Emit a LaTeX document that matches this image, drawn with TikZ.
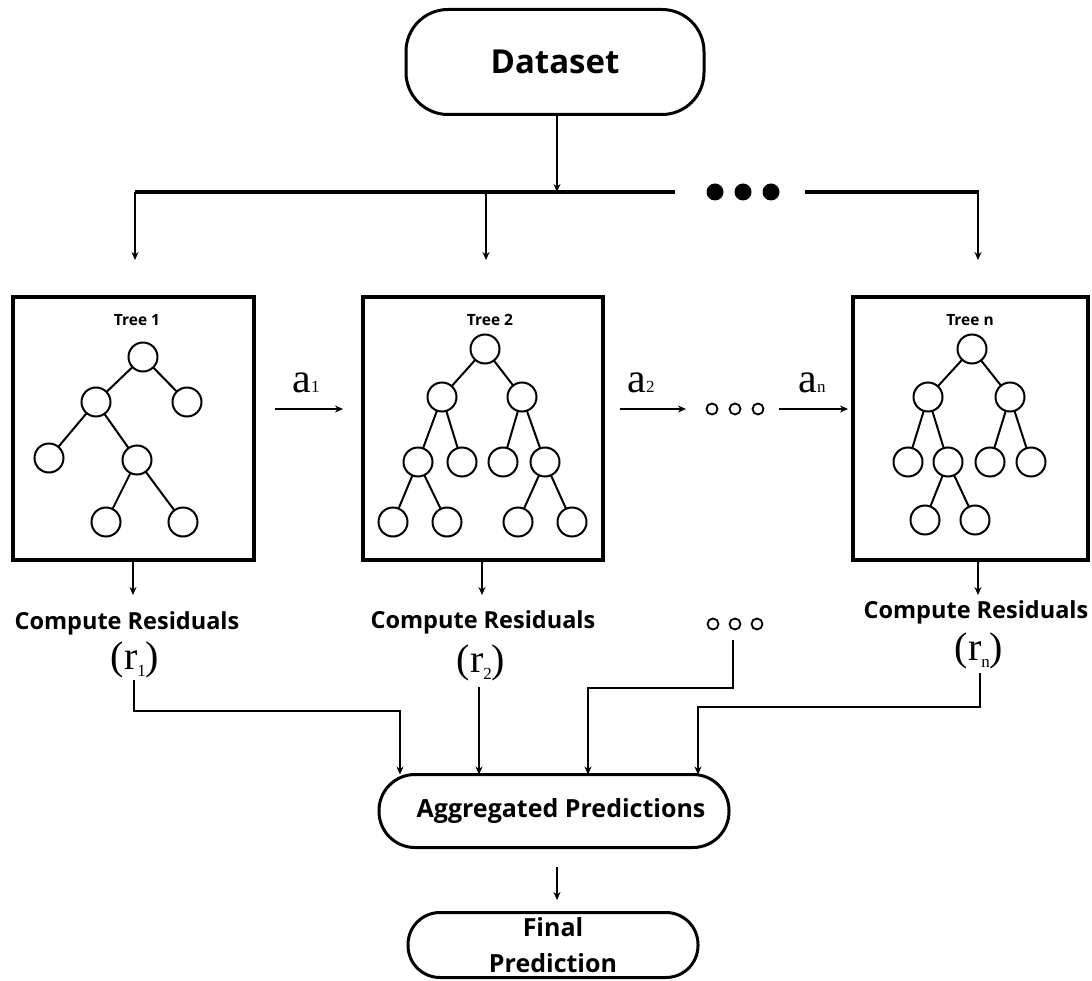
\documentclass[tikz,border=0pt]{standalone}
\usepackage{fontspec}
\setmainfont{Open Sans}
\newfontfamily\tnr{Liberation Serif}
\usetikzlibrary{arrows.meta}
\newcommand{\alab}[1]{{\tnr\fontsize{42}{42}\selectfont a\raisebox{0pt}{\fontsize{17}{17}\selectfont #1}}}
\newcommand{\rlab}[1]{{\tnr\fontsize{40}{40}\selectfont (r\raisebox{-7pt}{\fontsize{17}{17}\selectfont #1})}}
\begin{document}
\begin{tikzpicture}[x=1pt,y=-1pt,
  every node/.style={inner sep=0pt, outer sep=0pt},
  term/.style={draw, line width=3pt, rounded corners=#1, align=center,
               font=\bfseries\fontsize{25}{30}\selectfont},
  treebox/.style={draw, line width=4pt},
  leaf/.style={draw, circle, line width=2pt, minimum size=29pt},
  edge/.style={line width=2pt},
  title/.style={font=\bfseries\fontsize{15.5}{18}\selectfont},
  resid/.style={font=\bfseries\fontsize{23.5}{28}\selectfont},
  arr/.style={line width=1.5pt, -{Stealth[length=8pt,width=7pt]}},
  conn/.style={line width=2pt, -{Stealth[length=8pt,width=7pt]}},
  bar/.style={line width=4pt},
  hollow/.style={draw, circle, line width=1.8pt, minimum size=11pt},
  solid/.style={fill, circle, minimum size=17pt}
]
\useasboundingbox (0,0) rectangle (1092,981);

% start and end terminals
\node[term=42pt, minimum width=298pt, minimum height=105pt,
      font=\bfseries\fontsize{33}{40}\selectfont] (data) at (555,62) {Dataset};
\node[term=36pt, minimum width=350pt, minimum height=73pt] (agg) at (554,811)
      {\hspace*{14pt}Aggregated Predictions};
\node[term=32pt, minimum width=290pt, minimum height=65pt] (final) at (553,945)
      {Final\\[6pt]Prediction};

% distribution bar
\coordinate (b1) at (135,192);
\coordinate (b2) at (486,192);
\coordinate (bm) at (557,192);
\coordinate (bl) at (675,192);
\coordinate (br) at (805,192);
\coordinate (b3) at (978,192);
\draw[bar] (b1) -- (bl);
\draw[bar] (br) -- (b3);
\node[solid] (d1) at (715,192) {};
\node[solid] (d2) at (743,192) {};
\node[solid] (d3) at (771,192) {};
\draw[arr] (data.south -| bm) -- (bm);
\coordinate (e1) at (135,260);
\coordinate (e2) at (486,260);
\coordinate (e3) at (978,260);
\draw[arr] (b1) -- (e1);
\draw[arr] (b2) -- (e2);
\draw[line width=1.5pt] (b3) -- ++(0,-2);
\draw[arr] (b3) -- (e3);

% tree boxes
\node[treebox, minimum width=241pt, minimum height=263pt] (t1) at (133.5,428.5) {};
\node[treebox, minimum width=240pt, minimum height=263pt] (t2) at (483,428.5) {};
\node[treebox, minimum width=235pt, minimum height=263pt] (tn) at (970.5,428.5) {};
\node[title] (h1) at (137,320) {Tree 1};
\node[title] (h2) at (490,320) {Tree 2};
\node[title] (hn) at (970,320) {Tree n};

% tree 1
\node[leaf] (p0) at (143,357) {};
\node[leaf] (p1) at (96,402) {};
\node[leaf] (p2) at (187,402) {};
\node[leaf] (p3) at (49,458) {};
\node[leaf] (p4) at (137,460) {};
\node[leaf] (p5) at (106,522) {};
\node[leaf] (p6) at (183,522) {};
\draw[edge] (p0) -- (p1) (p0) -- (p2) (p1) -- (p3) (p1) -- (p4)
            (p4) -- (p5) (p4) -- (p6);

% tree 2
\node[leaf] (q0) at (485,349) {};
\node[leaf] (q1) at (442,397) {};
\node[leaf] (q2) at (522,397) {};
\node[leaf] (q3) at (418,462) {};
\node[leaf] (q4) at (462,462) {};
\node[leaf] (q5) at (503,462) {};
\node[leaf] (q6) at (545,462) {};
\node[leaf] (q7) at (393,522) {};
\node[leaf] (q8) at (447,522) {};
\node[leaf] (q9) at (518,522) {};
\node[leaf] (q10) at (572,522) {};
\draw[edge] (q0) -- (q1) (q0) -- (q2) (q1) -- (q3) (q1) -- (q4)
            (q2) -- (q5) (q2) -- (q6) (q3) -- (q7) (q3) -- (q8)
            (q6) -- (q9) (q6) -- (q10);

% tree n
\node[leaf] (s0) at (972,349) {};
\node[leaf] (s1) at (928,397) {};
\node[leaf] (s2) at (1010,397) {};
\node[leaf] (s3) at (908,462) {};
\node[leaf] (s4) at (948,462) {};
\node[leaf] (s5) at (990,462) {};
\node[leaf] (s6) at (1031,462) {};
\node[leaf] (s7) at (925,520) {};
\node[leaf] (s8) at (975,520) {};
\draw[edge] (s0) -- (s1) (s0) -- (s2) (s1) -- (s3) (s1) -- (s4)
            (s2) -- (s5) (s2) -- (s6) (s4) -- (s7) (s4) -- (s8);

% boosting sequence
\node (a1) at (306,383) {\alab{1}};
\node (a2) at (641,383) {\alab{2}};
\node (an) at (812,383) {\alab{n}};
\node[hollow] (m1) at (712,409) {};
\node[hollow] (m2) at (735,409) {};
\node[hollow] (m3) at (758,409) {};
\coordinate (k1) at (275,409);
\coordinate (k2) at (343,409);
\coordinate (k3) at (620,409);
\coordinate (k4) at (686,409);
\coordinate (k5) at (779,409);
\coordinate (k6) at (848,409);
\draw[conn] (k1) -- (k2);
\draw[conn] (k3) -- (k4);
\draw[conn] (k5) -- (k6);

% residual labels
\node[resid] (c1) at (127,623) {Compute Residuals};
\node[resid] (c2) at (483,622) {Compute Residuals};
\node[resid] (cn) at (976,612) {Compute Residuals};
\node (r1) at (135,660) {\rlab{1}};
\node (r2) at (481,663) {\rlab{2}};
\node (rn) at (979,651) {\rlab{n}};
\node[hollow] (o1) at (713,624) {};
\node[hollow] (o2) at (735,624) {};
\node[hollow] (o3) at (757,624) {};

\coordinate (f1) at (133,595);
\coordinate (f2) at (482,595);
\coordinate (f3) at (978,595);
\draw[arr] (t1.south -| f1) -- (f1);
\draw[arr] (t2.south -| f2) -- (f2);
\draw[arr] (tn.south -| f3) -- (f3);

% into the aggregation
\coordinate (g1) at (134,680);
\coordinate (g2) at (479,687);
\coordinate (g0) at (733,640);
\coordinate (g4) at (980,673);
\coordinate (j1) at (400,711);
\coordinate (j3) at (588,688);
\coordinate (j4) at (698,707);
\draw[conn] (g1) |- (j1) -- (agg.north -| j1);
\draw[conn] (g2) -- (agg.north -| g2);
\draw[conn] (g0) |- (j3) -- (agg.north -| j3);
\draw[conn] (g4) |- (j4) -- (agg.north -| j4);

% final step
\coordinate (u1) at (557,867);
\coordinate (u2) at (557,900);
\draw[arr] (u1) -- (u2);
\end{tikzpicture}
\end{document}
